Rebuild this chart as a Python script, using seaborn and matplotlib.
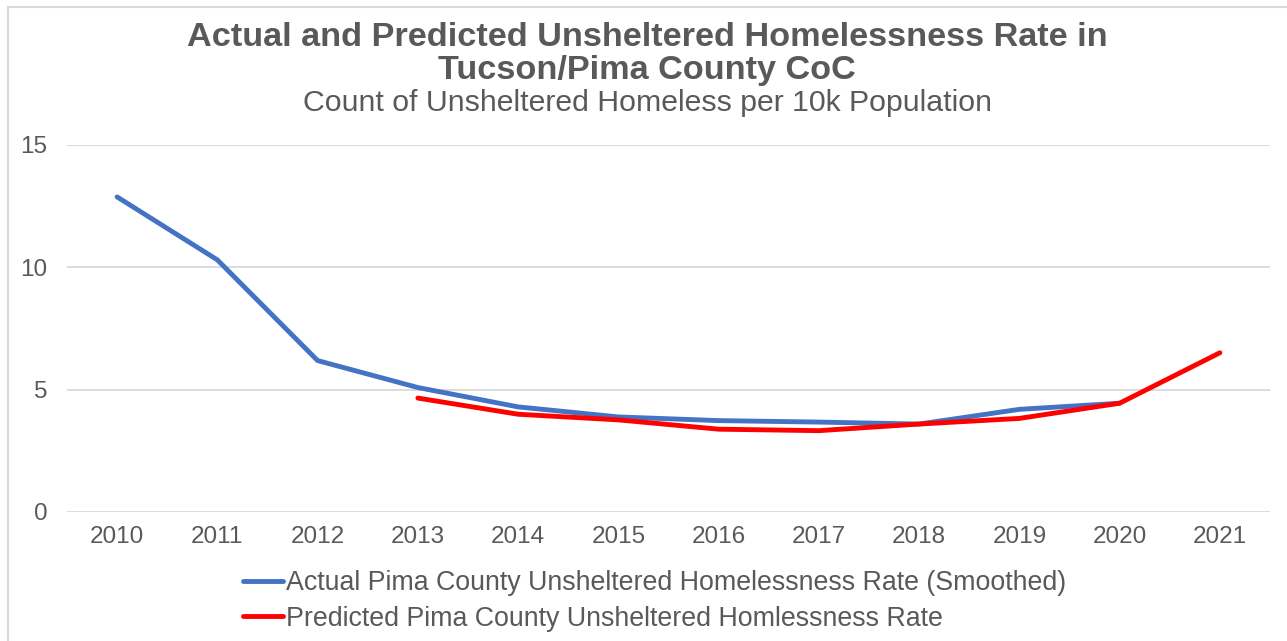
import matplotlib
matplotlib.use("Agg")
import matplotlib.pyplot as plt
import seaborn as sns
import pandas as pd
from matplotlib.patches import Rectangle

# Data
years = [2010, 2011, 2012, 2013, 2014, 2015, 2016, 2017, 2018, 2019, 2020, 2021]
actual = [12.86, 10.29, 6.18, 5.08, 4.29, 3.88, 3.73, 3.67, 3.59, 4.19, 4.44, None]
predicted = [None, None, None, 4.65, 3.99, 3.76, 3.38, 3.32, 3.59, 3.82, 4.44, 6.50]
yticks = [0, 5, 10, 15]

actual_label = "Actual Pima County Unsheltered Homelessness Rate (Smoothed)"
predicted_label = "Predicted Pima County Unsheltered Homlessness Rate"

df = pd.DataFrame({"year": years, "actual": actual, "predicted": predicted})

sns.set_theme(style="white")
plt.rcParams["font.family"] = ["Liberation Sans", "DejaVu Sans"]

gray = "#595959"
fig = plt.figure(figsize=(12.87, 6.41), dpi=100)
ax = fig.add_axes([67 / 1287, 1 - 512 / 641, (1270 - 67) / 1287, (512 - 144.5) / 641])

sns.lineplot(data=df, x="year", y="actual", ax=ax, color="#4472C4", linewidth=3.5,
             label=actual_label)
sns.lineplot(data=df, x="year", y="predicted", ax=ax, color="#FF0000", linewidth=3.5,
             label=predicted_label)

ax.set_xlim(2009.5, 2021.5)
ax.set_ylim(0, 15)
ax.set_xticks(years)
ax.set_yticks(yticks)
ax.tick_params(axis="both", labelsize=17.5, colors=gray, length=0)
ax.tick_params(axis="x", pad=10)
ax.tick_params(axis="y", pad=14)
ax.grid(axis="y", color="#d9d9d9", linewidth=1.3)
ax.set_axisbelow(True)
for s in ax.spines.values():
    s.set_visible(False)
ax.set_xlabel("")
ax.set_ylabel("")

ax.legend(loc="upper left", bbox_to_anchor=(165 / 1203, -0.13), frameon=False,
          fontsize=19.3, handlelength=1.5, handletextpad=0.1, labelspacing=0.35,
          labelcolor=gray, borderaxespad=0)

fig.text(0.503, 1 - 37 / 641, "Actual and Predicted Unsheltered Homelessness Rate in",
         ha="center", va="center", fontsize=24.7, fontweight="bold", color=gray)
fig.text(0.503, 1 - 71 / 641, "Tucson/Pima County CoC",
         ha="center", va="center", fontsize=24.7, fontweight="bold", color=gray)
fig.text(0.503, 1 - 103 / 641, "Count of Unsheltered Homeless per 10k Population",
         ha="center", va="center", fontsize=21.8, color=gray)

# outer chart border
fig.patches.append(Rectangle((8 / 1287, -0.05), 1.1, 1.05 - 7 / 641, transform=fig.transFigure,
                             fill=False, edgecolor="#d9d9d9", linewidth=1.5))

fig.savefig("out.png", dpi=100, facecolor="white")
